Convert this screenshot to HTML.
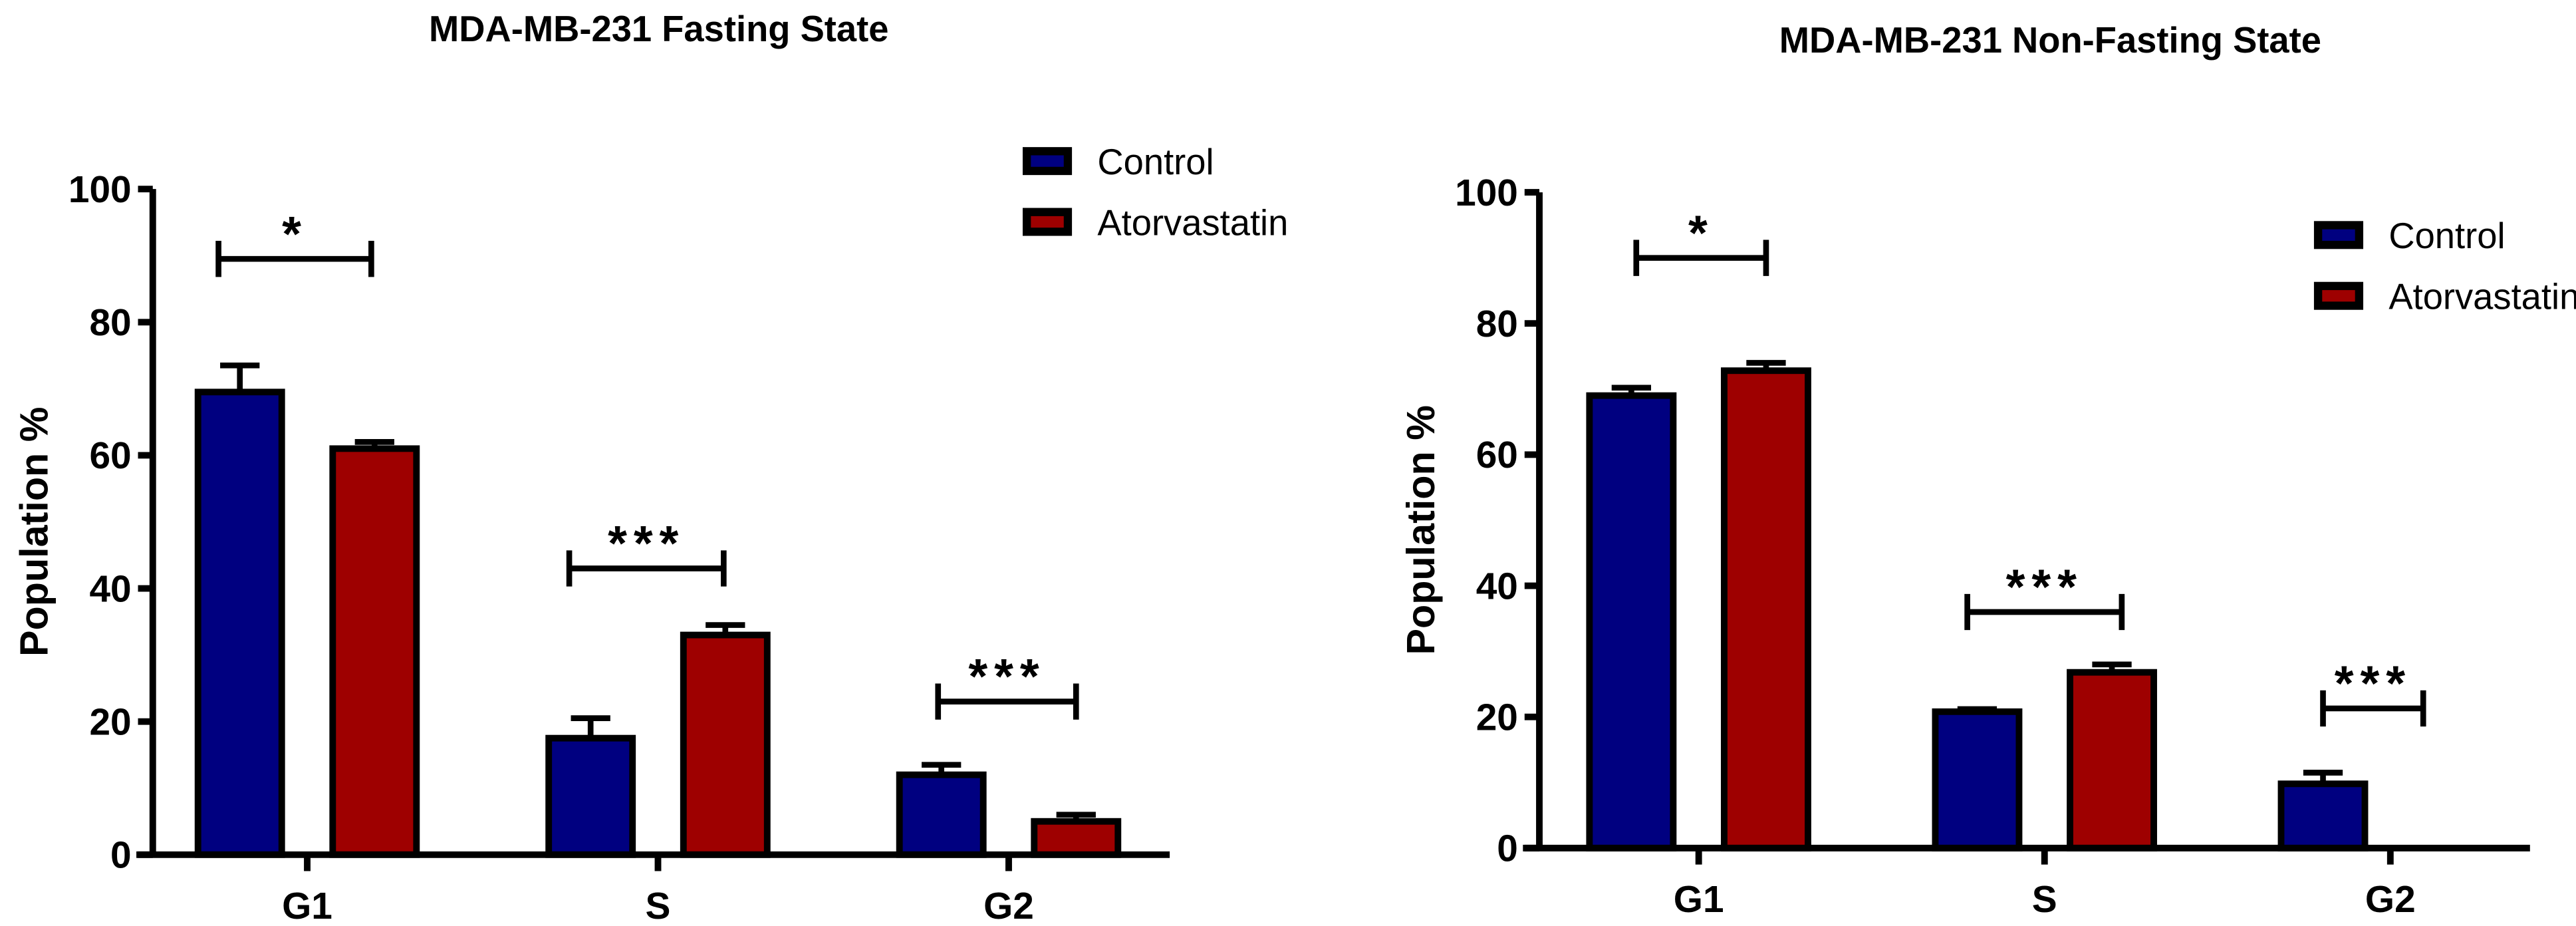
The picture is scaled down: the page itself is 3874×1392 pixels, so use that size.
<!DOCTYPE html>
<html><head><meta charset="utf-8"><style>
html,body{margin:0;padding:0;background:#fff}
svg{display:block}
text{font-family:"Liberation Sans",Arial,sans-serif;fill:#000}
</style></head><body>
<svg id="fig" width="3874" height="1392" viewBox="0 0 1568 563.4" xmlns="http://www.w3.org/2000/svg"></svg>
<script>
// Shared data
const categories = ["G1", "S", "G2"];
const seriesNames = ["Control", "Atorvastatin"];
const yTicks = [0, 20, 40, 60, 80, 100];
// Left chart (fasting)
const fastControl = [69.5, 17.5, 12];
const fastControlErr = [4, 3, 1.5];
const fastAtorva = [61, 33, 5];
const fastAtorvaErr = [1, 1.5, 1];
const fastSig = ["*", "***", "***"];
const fastSigLevel = [89.5, 43, 23];
// Right chart (non-fasting)
const nonControl = [69, 20.8, 9.8];
const nonControlErr = [1.2, 0.4, 1.7];
const nonAtorva = [72.8, 26.8, 0];
const nonAtorvaErr = [1.2, 1.2, 0];
const nonSig = ["*", "***", "***"];
const nonSigLevel = [90, 36, 21.3];

const svg = document.getElementById('fig');
const NS = 'http://www.w3.org/2000/svg';
function mk(tag, attrs, parent) {
  const e = document.createElementNS(NS, tag);
  for (const k in attrs) e.setAttribute(k, attrs[k]);
  (parent || svg).appendChild(e);
  return e;
}
const colors = ["#000080", "#9e0000"];

function chart(cfg) {
  const g = mk('g', {});
  
  
  const y = v => cfg.y0 - (v / 100) * (cfg.y0 - cfg.y100);
  const xc = i => cfg.xFirst + i * cfg.step;
  const t = mk('text', {x: cfg.titleX, y: cfg.titleY, 'text-anchor': 'middle', 'font-size': 22, 'font-weight': 'bold'}, g);
  t.textContent = cfg.title;
  
  
  const yl = mk('text', {x: 0, y: 0, transform: `translate(${cfg.ax - 64},${(cfg.y0 + cfg.y100) / 2 + 6}) rotate(-90)`, 'text-anchor': 'middle', 'font-size': 24, 'font-weight': 'bold'}, g);
  yl.textContent = 'Population %';
  
  
  const sets = [[cfg.c, cfg.ce], [cfg.a, cfg.ae]];
  sets.forEach((s, si) => {
    categories.forEach((c, i) => {
      const v = s[0][i];
      if (v <= 0) return;
      const cx = xc(i) + (si === 0 ? -cfg.off : cfg.off);
      const top = y(v), errTop = y(v + s[1][i]);
      const er = mk('path', {d: `M${cx} ${top} V${errTop} M${cx - 12} ${errTop} H${cx + 12}`, stroke: '#000', 'stroke-width': 3.5, fill: 'none'}, g);
      
      
      const r = mk('rect', {x: cx - cfg.bw / 2, y: top, width: cfg.bw, height: cfg.y0 - top, fill: colors[si], stroke: '#000', 'stroke-width': 4}, g);
      
      
    });
  });
  const ya = mk('path', {d: `M${cfg.ax} ${cfg.y100} V${cfg.y0}`, stroke: '#000', 'stroke-width': 4, fill: 'none'}, g);
  
  
  const xa = mk('path', {d: `M${cfg.ax - 10} ${cfg.y0} H${cfg.xEnd}`, stroke: '#000', 'stroke-width': 4, fill: 'none'}, g);
  
  
  yTicks.forEach(v => {
    const tk = mk('path', {d: `M${cfg.ax - 9} ${y(v)} H${cfg.ax}`, stroke: '#000', 'stroke-width': 4}, g);
    
    
    const tl = mk('text', {x: cfg.ax - 13, y: y(v) + 8, 'text-anchor': 'end', 'font-size': 23, 'font-weight': 'bold'}, g);
    tl.textContent = v;
    
    
  });
  categories.forEach((c, i) => {
    const tk = mk('path', {d: `M${xc(i)} ${cfg.y0} V${cfg.y0 + 10}`, stroke: '#000', 'stroke-width': 4}, g);
    
    
    const tl = mk('text', {x: xc(i), y: cfg.y0 + 39, 'text-anchor': 'middle', 'font-size': 23, 'font-weight': 'bold'}, g);
    tl.textContent = c;
    
    
    const sy = y(cfg.sigL[i]);
    const x1 = xc(i) - cfg.sigW[i], x2 = xc(i) + cfg.sigW2[i];
    const br = mk('path', {d: `M${x1} ${sy - 11} V${sy + 11} M${x1} ${sy} H${x2} M${x2} ${sy - 11} V${sy + 11}`, stroke: '#000', 'stroke-width': 3.5, fill: 'none'}, g);
    
    
    const st = mk('text', {x: (x1 + x2) / 2, y: sy - 5, 'text-anchor': 'middle', 'font-size': 30, 'font-weight': 'bold', 'letter-spacing': 4}, g);
    st.textContent = cfg.sig[i];
    
    
  });
  seriesNames.forEach((n, i) => {
    const ly = cfg.legY + i * 37;
    const lb = mk('rect', {x: cfg.legX + 3, y: ly - 6, width: 25, height: 12, fill: colors[i], stroke: '#000', 'stroke-width': 5}, g);
    
    
    const lt = mk('text', {x: cfg.legX + 46, y: ly + 8, 'font-size': 22}, g);
    lt.textContent = n;
    
    
  });
}

chart({name: 'chart-fasting', title: 'MDA-MB-231 Fasting State', titleX: 401, titleY: 25,
  ax: 93, y0: 520, y100: 115, xEnd: 712, xFirst: 187, step: 213.5, off: 41, bw: 51,
  c: fastControl, ce: fastControlErr, a: fastAtorva, ae: fastAtorvaErr,
  sig: fastSig, sigL: fastSigLevel, sigW: [54, 54, 43], sigW2: [39, 40, 41],
  legX: 622, legY: 98});
chart({name: 'chart-non-fasting', title: 'MDA-MB-231 Non-Fasting State', titleX: 1248, titleY: 32,
  ax: 937, y0: 516, y100: 117, xEnd: 1540, xFirst: 1034, step: 210.5, off: 41, bw: 51,
  c: nonControl, ce: nonControlErr, a: nonAtorva, ae: nonAtorvaErr,
  sig: nonSig, sigL: nonSigLevel, sigW: [38, 47, 41], sigW2: [41, 47, 20],
  legX: 1408, legY: 143});
</script>
</body></html>
